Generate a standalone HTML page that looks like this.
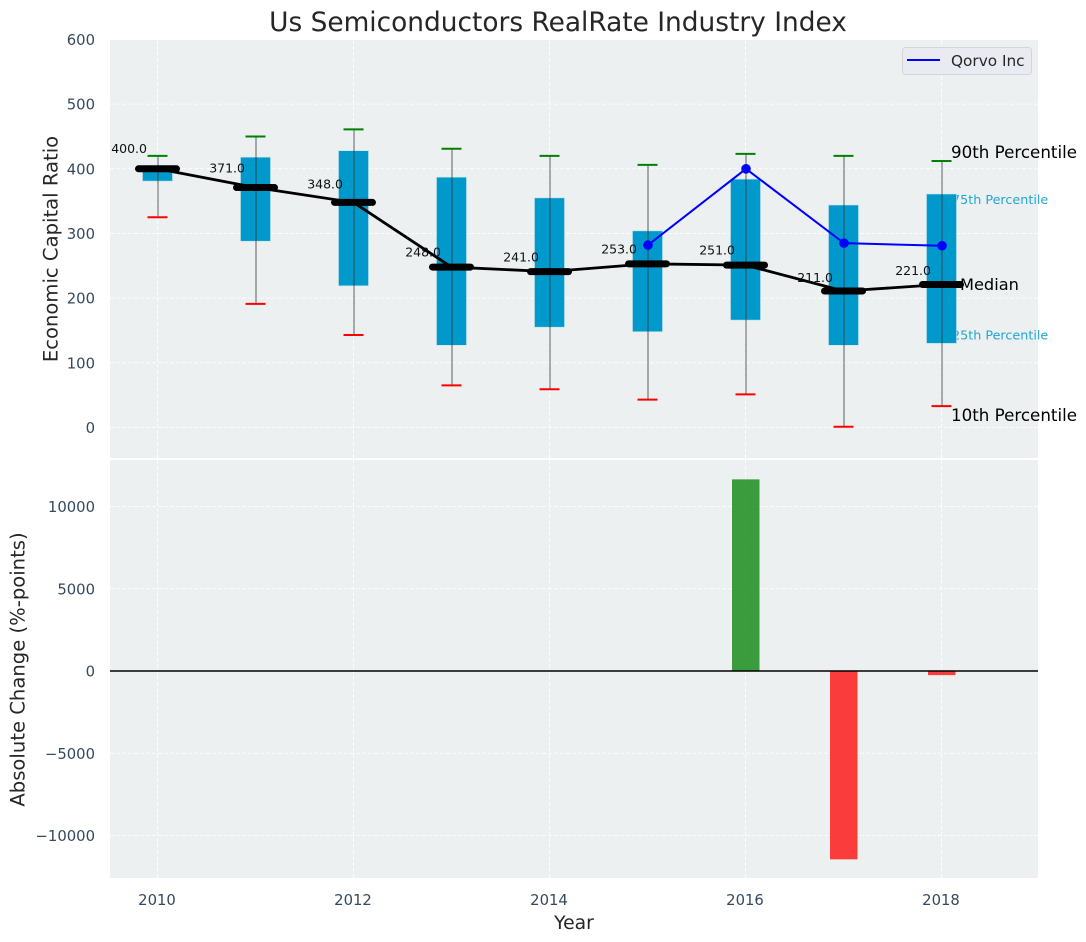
<!DOCTYPE html>
<html>
<head>
<meta charset="utf-8">
<style>
html,body{margin:0;padding:0;background:#fff;}
svg{display:block;font-family:"DejaVu Sans","Liberation Sans",sans-serif;}
</style>
</head>
<body>
<svg id="chart" width="1086" height="942" viewBox="0 0 1086 942"></svg>
<script>
const years = [2010, 2011, 2012, 2013, 2014, 2015, 2016, 2017, 2018];
const p90 = [420, 450, 461, 431, 420, 406, 423, 420, 412];
const p75 = [401, 418, 428, 387, 355, 304, 384, 344, 361];
const medians = [400, 371, 348, 248, 241, 253, 251, 211, 221];
const p25 = [381, 288, 219, 127, 155, 148, 166, 127, 130];
const p10 = [325, 191, 143, 65, 59, 43, 51, 1, 33];
const qorvoYears = [2015, 2016, 2017, 2018];
const qorvoValues = [282, 400, 285, 281];
const changeYears = [2016, 2017, 2018];
const changeValues = [11650, -11450, -250];
const xTicks = [2010, 2012, 2014, 2016, 2018];
const yTicksTop = [0, 100, 200, 300, 400, 500, 600];
const yTicksBottom = [-10000, -5000, 0, 5000, 10000];

const NS = 'http://www.w3.org/2000/svg';
const svg = document.getElementById('chart');
const X = v => 157.5 + (v - 2010) * 98;
const YT = v => 427.4 - v * 0.6465;
const YB = v => 671 - v * 0.01645;

function add(tag, attrs, text) {
  const el = document.createElementNS(NS, tag);
  for (const k in attrs) el.setAttribute(k, attrs[k]);
  if (text !== undefined) el.textContent = text;
  svg.appendChild(el);
  return el;
}
function name(el, n, i) {
  
  
  return el;
}
const tickColor = '#34495e';
const labelColor = '#262626';
const tickSize = 14.8;

name(add('rect', {x:110, y:40, width:928, height:418, fill:'#ecf0f1'}), 'top-panel-background');
name(add('rect', {x:110, y:460, width:928, height:418, fill:'#ecf0f1'}), 'bottom-panel-background');

// grid
xTicks.forEach(t => {
  name(add('line', {x1:X(t), x2:X(t), y1:40, y2:458, stroke:'#fff', 'stroke-width':1, 'stroke-dasharray':'4 2', opacity:.85}), 'top-vertical-gridline');
  name(add('line', {x1:X(t), x2:X(t), y1:460, y2:878, stroke:'#fff', 'stroke-width':1, 'stroke-dasharray':'4 2', opacity:.85}), 'bottom-vertical-gridline');
  const lab = add('text', {x:X(t)-.5, y:905, 'font-size':tickSize, fill:tickColor, 'text-anchor':'middle'}, String(t));
  name(lab, 'x-tick-label');
});
yTicksTop.forEach(t => {
  if (t < 600) name(add('line', {x1:110, x2:1038, y1:YT(t), y2:YT(t), stroke:'#fff', 'stroke-width':1, 'stroke-dasharray':'4 2', opacity:.85}), 'top-horizontal-gridline');
  name(add('text', {x:95, y:YT(t)+5.5, 'font-size':tickSize, fill:tickColor, 'text-anchor':'end'}, String(t)), 'top-y-tick-label');
});
yTicksBottom.forEach(t => {
  name(add('line', {x1:110, x2:1038, y1:YB(t), y2:YB(t), stroke:'#fff', 'stroke-width':1, 'stroke-dasharray':'4 2', opacity:.85}), 'bottom-horizontal-gridline');
  name(add('text', {x:95, y:YB(t)+5.5, 'font-size':tickSize, fill:tickColor, 'text-anchor':'end'}, String(t).replace('-', '\u2212')), 'bottom-y-tick-label');
});

// percentile annotations placed beneath the boxes
const last = years.length - 1;
name(add('text', {x:952, y:YT(p75[last])+10, 'font-size':12.75, fill:'#0099cc', opacity:.85}, '75th Percentile'), 'p75-annotation');
name(add('text', {x:952, y:YT(p25[last])-4, 'font-size':12.75, fill:'#0099cc', opacity:.85}, '25th Percentile'), 'p25-annotation');

// boxes
years.forEach((y, i) => {
  const top = YT(p75[i]), bot = YT(p25[i]);
  name(add('rect', {x:X(y)-15, y:top, width:30, height:bot-top, fill:'#0099cc', stroke:'#c4e2ec', 'stroke-width':.6}), 'box-' + y);
});
// whiskers
years.forEach((y, i) => {
  name(add('line', {x1:X(y)+.5, x2:X(y)+.5, y1:YT(p90[i]), y2:YT(p10[i]), stroke:'#333', 'stroke-opacity':.55, 'stroke-width':1.4}), 'whisker-' + y);
  name(add('line', {x1:X(y)-10, x2:X(y)+10, y1:YT(p90[i]), y2:YT(p90[i]), stroke:'#008000', 'stroke-width':2}), 'p90-cap-' + y);
  name(add('line', {x1:X(y)-10, x2:X(y)+10, y1:YT(p10[i]), y2:YT(p10[i]), stroke:'#ff0000', 'stroke-width':2}), 'p10-cap-' + y);
});
// median line
name(add('polyline', {points:years.map((y, i) => X(y) + ',' + YT(medians[i])).join(' '), fill:'none', stroke:'#000', 'stroke-width':2.8}), 'median-line');
years.forEach((y, i) => {
  name(add('line', {x1:X(y)-19, x2:X(y)+19, y1:YT(medians[i]), y2:YT(medians[i]), stroke:'#000', 'stroke-width':7, 'stroke-linecap':'round'}), 'median-bar-' + y);
  name(add('text', {x:X(y)-10.5, y:YT(medians[i])-(1.2+0.037*medians[i]), 'font-size':12.5, fill:'#111', 'text-anchor':'end'}, medians[i].toFixed(1)), 'median-label-' + y);
});
// Qorvo
name(add('polyline', {points:qorvoYears.map((y, i) => (X(y)+.5) + ',' + YT(qorvoValues[i])).join(' '), fill:'none', stroke:'#0000ff', 'stroke-width':2}), 'qorvo-line');
qorvoYears.forEach((y, i) => {
  name(add('circle', {cx:X(y)+.5, cy:YT(qorvoValues[i]), r:4.8, fill:'#0000ff'}), 'qorvo-point-' + y);
});

// bars
changeYears.forEach((y, i) => {
  const v = changeValues[i], a = YB(Math.max(v, 0)), b = YB(Math.min(v, 0));
  name(add('rect', {x:X(y)-13.5, y:a, width:27.5, height:b-a, fill:v > 0 ? '#008000' : '#ff0000', 'fill-opacity':.75}), 'change-bar-' + y);
});
name(add('line', {x1:110, x2:1038, y1:YB(0), y2:YB(0), stroke:'#000', 'stroke-width':1.5}), 'zero-line');

// annotations
name(add('text', {x:951, y:158, 'font-size':16.7, fill:'#000'}, '90th Percentile'), 'p90-annotation');
name(add('text', {x:960, y:290, 'font-size':16.2, fill:'#000'}, 'Median'), 'median-annotation');
name(add('text', {x:951, y:421, 'font-size':16.7, fill:'#000'}, '10th Percentile'), 'p10-annotation');

// legend
name(add('rect', {x:902.5, y:47.5, width:129, height:27, rx:3, fill:'#eaeaf2', stroke:'#d5d5d8', 'stroke-width':1}), 'legend-box', true);
name(add('line', {x1:907, x2:940, y1:60, y2:60, stroke:'#0000ff', 'stroke-width':2}), 'legend-line');
name(add('text', {x:951, y:66, 'font-size':15.3, fill:labelColor}, 'Qorvo Inc'), 'legend-label');

// titles
name(add('text', {x:558, y:31, 'font-size':26.4, fill:labelColor, 'text-anchor':'middle'}, 'Us Semiconductors RealRate Industry Index'), 'chart-title');
name(add('text', {x:574, y:929, 'font-size':18.8, fill:labelColor, 'text-anchor':'middle'}, 'Year'), 'x-axis-title');
name(add('text', {x:0, y:0, 'font-size':19.6, fill:labelColor, 'text-anchor':'middle', transform:'translate(57.5 249) rotate(-90)'}, 'Economic Capital Ratio'), 'top-y-axis-title');
name(add('text', {x:0, y:0, 'font-size':19.6, fill:labelColor, 'text-anchor':'middle', transform:'translate(24.5 669.5) rotate(-90)'}, 'Absolute Change (%-points)'), 'bottom-y-axis-title');
</script>
</body>
</html>
